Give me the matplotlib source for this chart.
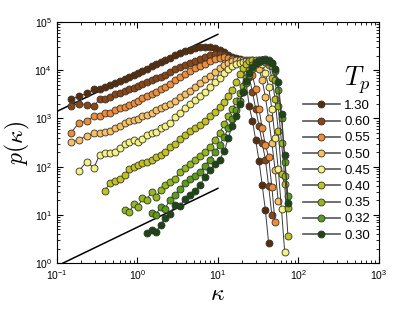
import numpy as np
import matplotlib
matplotlib.use('Agg')
import matplotlib.pyplot as plt

plt.rcParams['font.family'] = ['Liberation Sans', 'DejaVu Sans']
plt.rcParams['mathtext.fontset'] = 'cm'

kappa = [0.148, 0.187, 0.234, 0.288, 0.339, 0.398, 0.457, 0.525, 0.607, 0.700,
         0.794, 0.912, 1.02, 1.15, 1.30, 1.50, 1.70, 1.95, 2.19, 2.51,
         2.92, 3.37, 3.89, 4.49, 5.18, 5.97, 6.89, 7.94, 9.12, 10.5,
         12.0, 13.5, 15.1, 17.0, 18.6, 20.4, 22.4, 24.5, 26.9, 29.5,
         32.4, 35.5, 38.9, 42.7, 46.8, 51.3, 56.2, 61.7, 67.6, 74.1]

nan = np.nan
p_130 = [2500, 2900, 3300, 4000, 4100, 4400, 5000, 5500, 6000, 6600,
         7200, 8100, 8900, 9800, 10700, 12000, 13200, 14800, 16200, 18200,
         20900, 22900, 25100, 26900, 28800, 30200, 30900, 30900, 29500, 26900,
         23400, 20900, 19100, 17800, 17000, 15800, 5600, 1800, 890, 355,
         132, 42, 12.6, 2.6, nan, nan, nan, nan, nan, nan]
p_060 = [1820, 2040, 1950, 1820, 2500, 2500, 2800, 3160, 3400, 3700,
         4000, 4300, 4700, 5100, 5600, 6200, 6800, 7400, 8100, 9100,
         10500, 11500, 12900, 14500, 15800, 17400, 19100, 20400, 21400, 21400,
         20400, 19100, 17800, 16600, 15800, 15100, 12600, 7100, 3500, 1580,
         710, 316, 141, 40, 10, nan, nan, nan, nan, nan]
p_055 = [490, 810, 890, 1100, 1100, 1290, 1320, 1480, 1620, 1740,
         1950, 2140, 2340, 2630, 2880, 3240, 3630, 4070, 4570, 5250,
         6310, 7240, 8320, 9550, 11000, 12300, 13800, 15500, 17000, 18200,
         18600, 18200, 17400, 16600, 15800, 15500, 14800, 12600, 7900, 4000,
         1580, 630, 280, 160, 38, 7.2, nan, nan, nan, nan]
p_050 = [330, 355, 440, 490, 500, 525, 560, 620, 690, 810,
         890, 930, 980, 1100, 1170, 1320, 1480, 1620, 1820, 2040,
         2340, 2750, 3240, 3800, 4570, 5370, 6460, 7760, 9330, 11000,
         12900, 14500, 15500, 16200, 16600, 16600, 16200, 15800, 15100, 13800,
         10500, 6300, 2800, 1000, 316, 87, 19, nan, nan, nan]
p_045 = [nan, 81, 126, 95, 174, 190, 195, 200, 240, 290,
         330, 355, 330, 370, 460, 490, 525, 620, 690, 790,
         1050, 1320, 1660, 2000, 2400, 2950, 3630, 4470, 5620, 7080,
         8910, 10700, 12300, 13500, 14500, 15100, 15800, 16200, 16200, 15800,
         15100, 13200, 8900, 4500, 1580, 400, 89, 13, 1.7, nan]
p_040 = [nan, nan, nan, nan, nan, 32, 47, 51, 55, 68,
         91, 100, 107, 117, 126, 138, 162, 174, 204, 251,
         302, 380, 457, 550, 630, 724, 890, 1120, 1380, 1740,
         2240, 2950, 3980, 5750, 8320, 11200, 13800, 15800, 16600, 16600,
         16600, 16200, 15100, 12600, 7080, 2510, 560, 71, 43, 3.7]
p_035 = [nan, nan, nan, nan, nan, nan, nan, nan, nan, 12.9,
         11.7, 16.6, 14.8, 21.9, 20.4, 30, 24, 33, 42, 48,
         56, 79, 93, 112, 138, 166, 200, 251, 355, 501,
         759, 1120, 1580, 2290, 3310, 4790, 7080, 10000, 12600, 14800,
         16200, 16600, 16200, 15100, 12000, 6310, 1780, 316, 63, 14]
p_032 = [nan, nan, nan, nan, nan, nan, nan, nan, nan, nan,
         nan, nan, nan, nan, nan, 11.2, 10, 14.8, 13.2, 20,
         26, 35, 46, 56, 63, 78, 105, 141, 200, 282,
         417, 631, 955, 1480, 2290, 3550, 5370, 7940, 10700, 13200,
         15100, 16600, 17000, 16600, 14100, 9550, 3980, 1000, 126, 25]
p_030 = [nan, nan, nan, nan, nan, nan, nan, nan, nan, nan,
         nan, nan, nan, nan, 4.2, 4.8, 4.5, 6.2, 8.5, 10.5,
         15.8, 15.1, 21.4, 26.3, 31.6, 41.7, 60, 85, 112, 141,
         209, 398, 708, 1120, 2000, 3550, 6030, 8910, 11700, 14100,
         15800, 16600, 16600, 15800, 14100, 10500, 5620, 1260, 174, 18]

labels = ['1.30', '0.60', '0.55', '0.50', '0.45', '0.40', '0.35', '0.32', '0.30']
series = [p_130, p_060, p_055, p_050, p_045, p_040, p_035, p_032, p_030]
colors = ['#5a2d0a', '#8b4512', '#f08c35', '#f9c060', '#f6f27e',
          '#c2c21e', '#93b818', '#5a9e16', '#1a4810']

# guide lines, slope ~0.8
upper_k = [0.1, 10]
upper_p = [1400, 55700]
lower_k = [0.119, 10]
lower_p = [1.0, 35.5]

fig = plt.figure(figsize=(4.15, 3.11), dpi=100)
ax = fig.add_axes([0.137, 0.154, 0.776, 0.775])

ax.plot(upper_k, upper_p, color='black', lw=1.1, zorder=1)
ax.plot(lower_k, lower_p, color='black', lw=1.1, zorder=1)

for lab, p, c in zip(labels, series, colors):
    ax.plot(kappa, p, '-o', color='#3a3a3a', lw=0.7, ms=5.0,
            mfc=c, mec='#333333', mew=0.6, label=lab, zorder=2)

ax.set_xscale('log')
ax.set_yscale('log')
ax.set_xlim(0.1, 1000)
ax.set_ylim(1, 1e5)
ax.tick_params(which='both', direction='in', top=True, right=True,
               labelsize=7.5)
ax.tick_params(which='major', length=4)
ax.tick_params(which='minor', length=2)

ax.set_xlabel(r'$\kappa$', fontsize=17, labelpad=1)
ax.set_ylabel(r'$p(\kappa)$', fontsize=17, labelpad=2)

leg = ax.legend(loc='upper left', bbox_to_anchor=(0.735, 0.865), frameon=False,
                fontsize=9.5, handlelength=2.8, handletextpad=0.35,
                labelspacing=0.3, title=r'$T_p$', title_fontsize=19,
                alignment='right', borderpad=0.2)
for h in leg.legend_handles:
    h.set_color('#555555')
    h.set_linewidth(1.2)

fig.savefig('out.png', dpi=100)
